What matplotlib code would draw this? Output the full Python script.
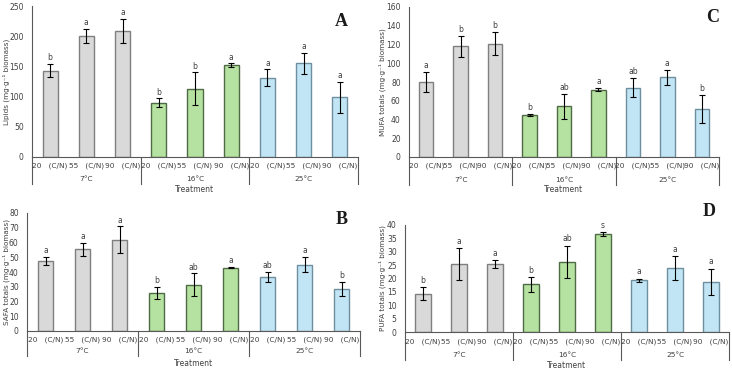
import matplotlib
matplotlib.use("Agg")
import matplotlib.pyplot as plt
import numpy as np

# ---- data ----
categories = ["20   (C/N)", "55   (C/N)", "90   (C/N)"] * 3
groups = ["7°C", "16°C", "25°C"]

lipids = [143, 200, 209, 90, 113, 152, 131, 155, 99]
lipids_err = [11, 12, 20, 7, 27, 3, 14, 18, 26]
lipids_letters = ["b", "a", "a", "b", "b", "a", "a", "a", "a"]

mufa = [80, 118, 121, 45, 54, 72, 74, 85, 51]
mufa_err = [11, 11, 12, 1, 13, 1.5, 10, 8, 15]
mufa_letters = ["a", "b", "b", "b", "ab", "a", "ab", "a", "b"]

safa = [47.5, 55.5, 62, 26, 31.5, 43, 36.5, 45, 28.5]
safa_err = [2.5, 4.5, 9, 4, 7.5, 0.3, 3.5, 5, 5]
safa_letters = ["a", "a", "a", "b", "ab", "a", "ab", "a", "b"]

pufa = [14.3, 25.5, 25.3, 17.8, 26.3, 36.7, 19.3, 24, 18.7]
pufa_err = [2.5, 6, 1.5, 2.7, 6, 0.8, 0.7, 4.5, 5]
pufa_letters = ["b", "a", "a", "b", "ab", "s", "a", "a", "a"]

fills = ["#d9d9d9"] * 3 + ["#b6e2a1"] * 3 + ["#c2e5f5"] * 3
edges = ["#7f7f7f"] * 3 + ["#4f6b45"] * 3 + ["#6f8f9f"] * 3

W, H = 732, 369
fig = plt.figure(figsize=(W / 100, H / 100), dpi=100)
TXT = "#404040"


def panel(left, top, right, zero, ymax, ystep, vals, errs, letters, ylabel, ylab_x, tag,
          tag_xy, cat_y, grp_y, sep_y, treat_y, lab_off):
    ax = fig.add_axes([left / W, 1 - zero / H, (right - left) / W, (zero - top) / H])
    x = np.arange(len(vals))
    ax.bar(x, vals, width=0.42, color=fills, edgecolor=edges, linewidth=1.0, zorder=2)
    ax.errorbar(x, vals, yerr=errs, fmt="none", ecolor="black", elinewidth=0.8,
                capsize=2.2, capthick=0.8, zorder=3)
    for xi, v, e, l in zip(x, vals, errs, letters):
        ax.text(xi, v + e + lab_off, l, ha="center", va="bottom", fontsize=5.5, color=TXT)
    ax.set_xlim(-0.5, 8.5)
    ax.set_ylim(0, ymax)
    ax.set_yticks(np.arange(0, ymax + ystep / 2, ystep))
    ax.tick_params(axis="y", labelsize=5.5, colors=TXT, length=0, pad=6)
    ax.set_xticks([])
    for s in ["top", "right"]:
        ax.spines[s].set_visible(False)
    ax.spines["left"].set_color("#595959")
    ax.spines["bottom"].set_color("#595959")
    ax.spines["left"].set_linewidth(0.8)
    ax.spines["bottom"].set_linewidth(0.8)
    fig.text(ylab_x / W, 1 - (top + zero) / 2 / H, ylabel, rotation=90, ha="center",
             va="center", fontsize=5.2, color=TXT)
    pw = (right - left) / 9.0

    def fx(xd):
        return (left + (xd + 0.5) * pw) / W

    for i, c in enumerate(categories):
        fig.text(fx(i), 1 - cat_y / H, c, ha="center", va="center", fontsize=5.3, color=TXT)
    for g, name in enumerate(groups):
        fig.text(fx(3 * g + 1), 1 - grp_y / H, name, ha="center", va="center",
                 fontsize=5.3, color=TXT)
    for b in [-0.5, 2.5, 5.5, 8.5]:
        fig.add_artist(plt.Line2D([fx(b), fx(b)], [1 - zero / H, 1 - sep_y / H],
                                  color="#595959", lw=0.8))
    fig.text((left + right) / 2 / W, 1 - treat_y / H, "Treatment", ha="center",
             va="center", fontsize=5.5, color=TXT)
    fig.text(tag_xy[0] / W, 1 - tag_xy[1] / H, tag, ha="center", va="center",
             fontsize=13, fontweight="bold", family="Liberation Serif", color="#1a1a1a")
    return ax


panel(32, 6, 358, 157, 250, 50, lipids, lipids_err, lipids_letters,
      "Lipids (mg·g⁻¹ biomass)", 6, "A", (341, 22), 166, 179, 184, 190, 3)
panel(409, 7, 719, 157, 160, 20, mufa, mufa_err, mufa_letters,
      "MUFA totals (mg·g⁻¹ biomass)", 382, "C", (713, 17), 166, 180, 185, 190, 2)
panel(27, 213, 360, 331, 80, 10, safa, safa_err, safa_letters,
      "SAFA totals (mg·g⁻¹ biomass)", 6, "B", (342, 220), 340, 351, 356, 363, 1.2)
panel(405, 225, 729, 332, 40, 5, pufa, pufa_err, pufa_letters,
      "PUFA totals (mg·g⁻¹ biomass)", 382, "D", (709, 212), 342, 355, 360, 365, 0.8)

fig.savefig("out.png", dpi=100)
